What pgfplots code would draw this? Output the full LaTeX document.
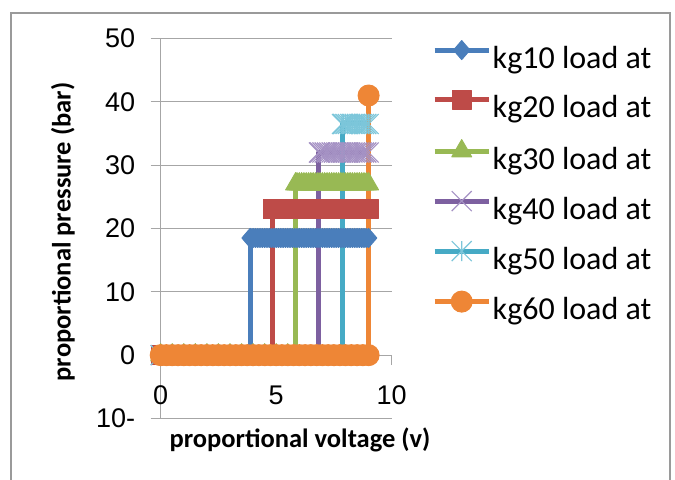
\documentclass[border=0pt]{standalone}
\usepackage{pgfplots}
\pgfplotsset{compat=1.18}
\usepackage{fontspec}
\setmainfont{Carlito}
\newfontfamily\tickfont{Liberation Sans}
\definecolor{cBlue}{HTML}{4A7EBB}
\definecolor{cRed}{HTML}{BE4B48}
\definecolor{cGreen}{HTML}{98B954}
\definecolor{cPurple}{HTML}{7D60A0}
\definecolor{cPurpleL}{HTML}{A592C4}
\definecolor{cCyan}{HTML}{46AAC5}
\definecolor{cCyanL}{HTML}{7CC6DA}
\definecolor{cOrange}{HTML}{EE8636}
\definecolor{gridGray}{HTML}{A6A6A6}
\definecolor{frameGray}{HTML}{9A9A9A}
\pgfdeclareplotmark{xstar}{%
 \pgfpathmoveto{\pgfqpoint{-\pgfplotmarksize}{-\pgfplotmarksize}}%
 \pgfpathlineto{\pgfqpoint{\pgfplotmarksize}{\pgfplotmarksize}}%
 \pgfpathmoveto{\pgfqpoint{-\pgfplotmarksize}{\pgfplotmarksize}}%
 \pgfpathlineto{\pgfqpoint{\pgfplotmarksize}{-\pgfplotmarksize}}%
 \pgfpathmoveto{\pgfqpoint{0pt}{-\pgfplotmarksize}}%
 \pgfpathlineto{\pgfqpoint{0pt}{\pgfplotmarksize}}%
 \pgfusepathqstroke}
\pgfdeclareplotmark{bigx}{%
 \pgfpathmoveto{\pgfqpoint{-\pgfplotmarksize}{-\pgfplotmarksize}}%
 \pgfpathlineto{\pgfqpoint{\pgfplotmarksize}{\pgfplotmarksize}}%
 \pgfpathmoveto{\pgfqpoint{-\pgfplotmarksize}{\pgfplotmarksize}}%
 \pgfpathlineto{\pgfqpoint{\pgfplotmarksize}{-\pgfplotmarksize}}%
 \pgfusepathqstroke}
\begin{document}
\begin{tikzpicture}[x=1bp,y=1bp]
\useasboundingbox (0,0) rectangle (675,480);
\draw[line width=2.5bp, color=frameGray] (11,-10) -- (11,467) -- (670,467) -- (670,-10);
\begin{axis}[
  at={(160.7bp,61.5bp)}, anchor=south west,
  scale only axis, width=231bp, height=380bp,
  xmin=0, xmax=10, ymin=-10, ymax=50,
  clip=false,
  axis y line*=left, axis x line*=middle,
  hide obscured x ticks=false,
  axis line style={draw=gridGray, line width=1.3bp},
  tick style={draw=gridGray, line width=1.3bp},
  tick align=outside, major tick length=10bp,
  ymajorgrids, major grid style={draw=gridGray, line width=1.3bp},
  ytick={-10,0,10,20,30,40,50},
  yticklabels={10-,0,10,20,30,40,50},
  xtick={0,5,10}, xticklabels={0,5,10},
  /pgf/number format/assume math mode=true,
  ticklabel style={font=\tickfont\fontsize{27bp}{30bp}\selectfont},
  xticklabel style={yshift=-17bp},
  yticklabel style={xshift=-12bp},
  xlabel={proportional voltage (v)},
  ylabel={proportional pressure (bar)},
  label style={font=\bfseries\fontsize{26.5bp}{30bp}\selectfont},
  xlabel style={at={(axis description cs:0.603,-0.057)}, anchor=center},
  ylabel style={at={(axis description cs:-0.423,0.491)}, anchor=center},
  legend style={at={(axis description cs:1.1745,0.995)}, anchor=north west,
    draw=none, fill=none, inner sep=0pt, row sep=14bp,
    font=\fontsize{32bp}{36bp}\selectfont,
    nodes={inner ysep=0pt, inner xsep=1.5bp, text height=24bp, text depth=8bp}},
  legend cell align=left,
  legend image code/.code={\draw[mark repeat=2,mark phase=2] plot coordinates {(0bp,10bp) (27bp,10bp) (54bp,10bp)};},
  every axis plot/.append style={line width=5bp, line join=round},
]
\addplot[cBlue, mark=diamond*, mark size=9.5bp, mark options={solid, xscale=1.15, line width=1bp, fill=cBlue, draw=cBlue}] coordinates {
(0,0) (0.5,0) (1,0) (1.5,0) (2,0) (2.5,0) (3,0) (3.5,0) (3.87,0) (3.87,18.5) (3.9,18.5)
(4,18.5) (4.1,18.5) (4.2,18.5) (4.3,18.5) (4.4,18.5) (4.5,18.5) (4.6,18.5) (4.7,18.5) (4.8,18.5) (4.9,18.5)
(5,18.5) (5.1,18.5) (5.2,18.5) (5.3,18.5) (5.4,18.5) (5.5,18.5) (5.6,18.5) (5.7,18.5) (5.8,18.5) (5.9,18.5)
(6,18.5) (6.1,18.5) (6.2,18.5) (6.3,18.5) (6.4,18.5) (6.5,18.5) (6.6,18.5) (6.7,18.5) (6.8,18.5) (6.9,18.5)
(7,18.5) (7.1,18.5) (7.2,18.5) (7.3,18.5) (7.4,18.5) (7.5,18.5) (7.6,18.5) (7.7,18.5) (7.8,18.5) (7.9,18.5)
(8,18.5) (8.1,18.5) (8.2,18.5) (8.3,18.5) (8.4,18.5) (8.5,18.5) (8.6,18.5) (8.7,18.5) (8.8,18.5) (8.9,18.5) (9,18.5)};
\addlegendentry{kg10 load at}
\addplot[cRed, mark=square*, mark size=9.5bp, mark options={solid, line width=1bp, fill=cRed, draw=cRed}] coordinates {
(0,0) (0.5,0) (1,0) (1.5,0) (2,0) (2.5,0) (3,0) (3.5,0) (4,0) (4.5,0) (4.85,0) (4.85,23) (4.9,23)
(5,23) (5.1,23) (5.2,23) (5.3,23) (5.4,23) (5.5,23) (5.6,23) (5.7,23) (5.8,23) (5.9,23)
(6,23) (6.1,23) (6.2,23) (6.3,23) (6.4,23) (6.5,23) (6.6,23) (6.7,23) (6.8,23) (6.9,23)
(7,23) (7.1,23) (7.2,23) (7.3,23) (7.4,23) (7.5,23) (7.6,23) (7.7,23) (7.8,23) (7.9,23)
(8,23) (8.1,23) (8.2,23) (8.3,23) (8.4,23) (8.5,23) (8.6,23) (8.7,23) (8.8,23) (8.9,23) (9,23)};
\addlegendentry{kg20 load at}
\addplot[cGreen, mark=triangle*, mark size=11.5bp, mark options={solid, line width=1bp, fill=cGreen, draw=cGreen}] coordinates {
(0,0) (0.5,0) (1,0) (1.5,0) (2,0) (2.5,0) (3,0) (3.5,0) (4,0) (4.5,0) (5,0) (5.5,0) (5.84,0) (5.84,27) (5.9,27)
(6,27) (6.1,27) (6.2,27) (6.3,27) (6.4,27) (6.5,27) (6.6,27) (6.7,27) (6.8,27) (6.9,27)
(7,27) (7.1,27) (7.2,27) (7.3,27) (7.4,27) (7.5,27) (7.6,27) (7.7,27) (7.8,27) (7.9,27)
(8,27) (8.1,27) (8.2,27) (8.3,27) (8.4,27) (8.5,27) (8.6,27) (8.7,27) (8.8,27) (8.9,27) (9,27)};
\addlegendentry{kg30 load at}
\addplot[cPurple, mark=bigx, mark size=10bp, mark options={solid, line width=1.2bp, draw=cPurpleL}] coordinates {
(0,0) (0.5,0) (1,0) (1.5,0) (2,0) (2.5,0) (3,0) (3.5,0) (4,0) (4.5,0) (5,0) (5.5,0) (6,0) (6.5,0) (6.85,0) (6.85,32) (6.9,32)
(7,32) (7.1,32) (7.2,32) (7.3,32) (7.4,32) (7.5,32) (7.6,32) (7.7,32) (7.8,32) (7.9,32)
(8,32) (8.1,32) (8.2,32) (8.3,32) (8.4,32) (8.5,32) (8.6,32) (8.7,32) (8.8,32) (8.9,32) (9,32)};
\addlegendentry{kg40 load at}
\addplot[cCyan, mark=xstar, mark size=10bp, mark options={solid, line width=1.2bp, draw=cCyanL}] coordinates {
(0,0) (0.5,0) (1,0) (1.5,0) (2,0) (2.5,0) (3,0) (3.5,0) (4,0) (4.5,0) (5,0) (5.5,0) (6,0) (6.5,0) (7,0) (7.5,0) (7.85,0) (7.85,36.5) (7.9,36.5)
(8,36.5) (8.1,36.5) (8.2,36.5) (8.3,36.5) (8.4,36.5) (8.5,36.5) (8.6,36.5) (8.7,36.5) (8.8,36.5) (8.9,36.5) (9,36.5)};
\addlegendentry{kg50 load at}
\addplot[cOrange, mark=*, mark size=10.5bp, mark options={solid, line width=1bp, fill=cOrange, draw=cOrange}] coordinates {
(0,0) (0.25,0) (0.5,0) (0.75,0) (1,0) (1.25,0) (1.5,0) (1.75,0) (2,0) (2.25,0) (2.5,0) (2.75,0) (3,0) (3.25,0) (3.5,0) (3.75,0)
(4,0) (4.25,0) (4.5,0) (4.75,0) (5,0) (5.25,0) (5.5,0) (5.75,0) (6,0) (6.25,0) (6.5,0) (6.75,0) (7,0) (7.25,0) (7.5,0) (7.75,0)
(8,0) (8.25,0) (8.5,0) (8.75,0) (9,0) (9,41)};
\addlegendentry{kg60 load at}
\end{axis}
\end{tikzpicture}
\end{document}
